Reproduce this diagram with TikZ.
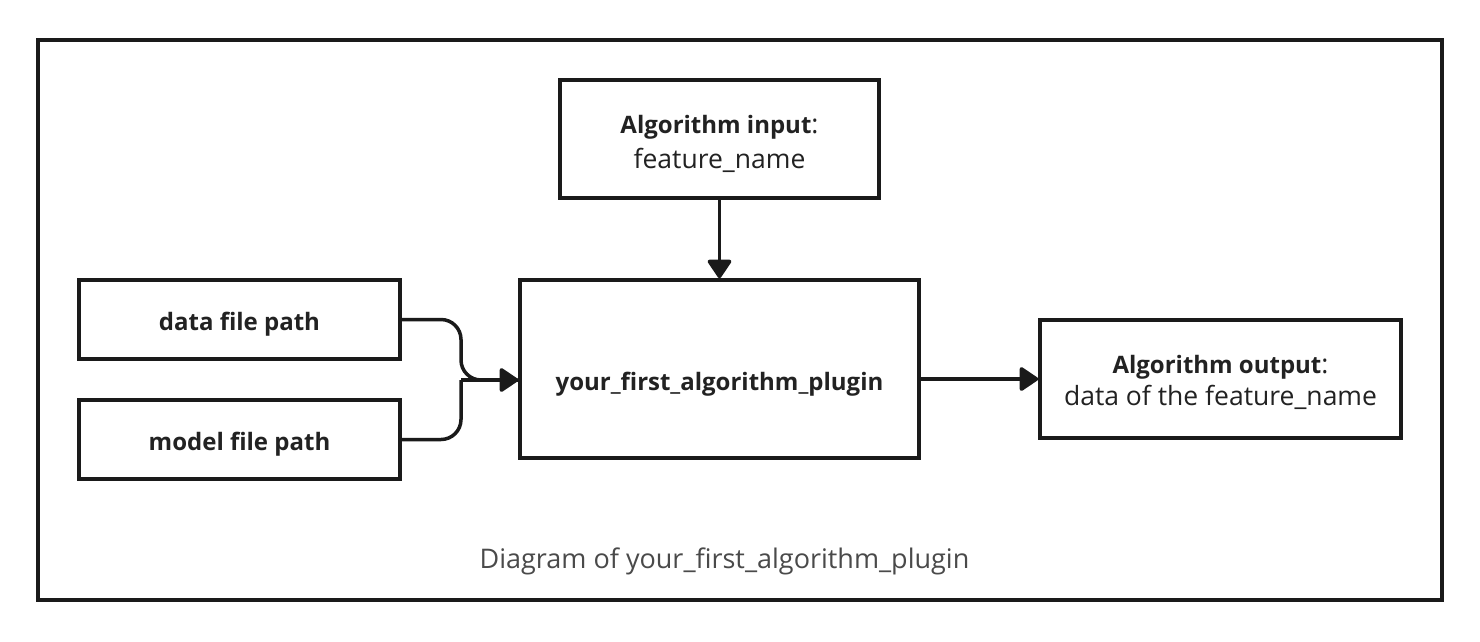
\documentclass[tikz,border=0pt]{standalone}
\usepackage{fontspec}
\setmainfont{Open Sans}
\usetikzlibrary{arrows.meta}
\definecolor{ink}{HTML}{1A1A1A}
\definecolor{txt}{HTML}{222222}
\definecolor{cap}{HTML}{4A4A4A}
\newcommand{\bt}[1]{{\fontsize{24}{30}\selectfont\bfseries #1}}
\tikzset{
  box/.style={draw=ink, line width=3.5pt, fill=white, inner sep=0pt},
  lbl/.style={anchor=base, inner sep=0pt, text=txt, font=\fontsize{26.5}{32}\selectfont},
  conn/.style={draw=ink, line width=3.5pt, -{Triangle[width=26pt,length=20pt,round]}},
}
\begin{document}
\begin{tikzpicture}[x=1pt,y=-1pt]
\useasboundingbox (0,0) rectangle (1480,641);
\fill[white] (0,0) rectangle (1480,641);
\draw[ink, line width=4pt] (38,40) rectangle (1442,600);
\node[box, minimum width=319pt, minimum height=118pt] (in) at (719.5,139) {};
\node[box, minimum width=399pt, minimum height=178pt] (main) at (719.5,369) {};
\node[box, minimum width=321pt, minimum height=79pt] (data) at (239.5,319.5) {};
\node[box, minimum width=321pt, minimum height=79pt] (model) at (239.5,439.5) {};
\node[box, minimum width=361pt, minimum height=118pt] (out) at (1220.5,379) {};
\node[lbl] (inA) at (719.5,133) {\bt{Algorithm input}:};
\node[lbl] (inB) at (719.5,168) {feature\_name};
\node[lbl] (mainA) at (719.5,390) {\bt{your\_first\_algorithm\_plugin}};
\node[lbl] (dataA) at (239.5,330) {\bt{data file path}};
\node[lbl] (modelA) at (239.5,450) {\bt{model file path}};
\node[lbl] (outA) at (1220.5,373) {\bt{Algorithm output}:};
\node[lbl] (outB) at (1220.5,405) {data of the feature\_name};
\node[lbl, text=cap, font=\fontsize{27}{32}\selectfont] (caption) at (724.5,568) {Diagram of your\_first\_algorithm\_plugin};
\coordinate (merge) at (461,380);
\draw[conn] (in.south) -- (main.north);
\draw[conn] (main.east |- out.west) -- (out.west);
\draw[ink, line width=3.5pt, rounded corners=20pt] (data.east) -| (merge) -- (main.west |- merge);
\draw[ink, line width=3.5pt, rounded corners=20pt] (model.east) -| (merge);
\draw[conn] (merge) -- (main.west |- merge);
\end{tikzpicture}
\end{document}
